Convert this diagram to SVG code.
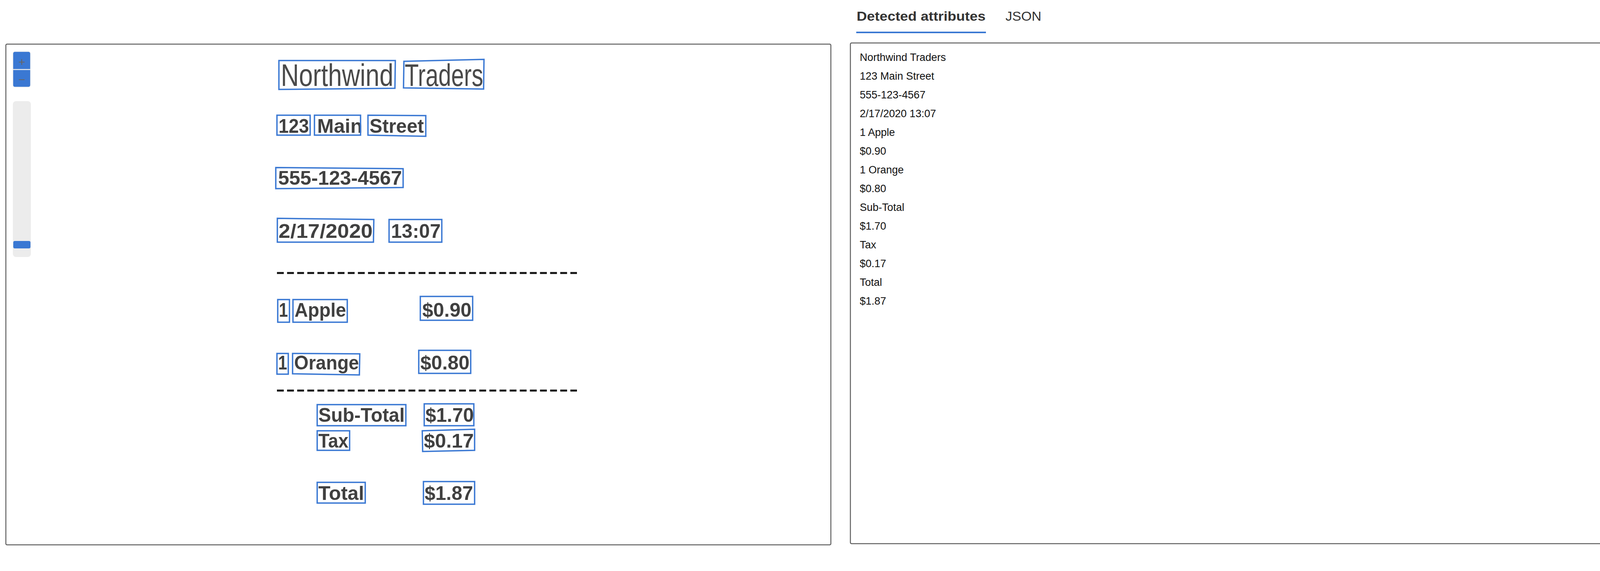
<svg xmlns="http://www.w3.org/2000/svg" width="4390" height="1462" viewBox="0 0 4390 1462">
<style>
.panel{fill:#ffffff;stroke:#5f5f5f;stroke-width:2.5}
.box{fill:none;stroke:#3a78d3;stroke-width:3.5}
.rc{font-family:"Liberation Sans Narrow","Liberation Sans",Arial,sans-serif;font-weight:bold;font-size:50px;fill:#404040}
.rt{font-family:"Liberation Sans Narrow","Liberation Sans",Arial,sans-serif;font-weight:normal;font-size:64px;fill:#4a4a4a}
.dash{stroke:#111;stroke-width:5;stroke-dasharray:17.5 8.4;fill:none}
.attr{font-family:"Liberation Sans",Arial,sans-serif;font-size:27px;fill:#111}
.tab{font-family:"Liberation Sans",Arial,sans-serif;font-size:33px;fill:#333}
.blue{fill:#3a78d3}
.glyph{font-family:"Liberation Sans",Arial,sans-serif;font-size:30px;fill:#666666;text-anchor:middle}
</style>
<rect x="0" y="0" width="4390" height="1462" fill="#ffffff"/>

<g id="left-panel">
  <rect class="panel" x="15" y="113" width="2112" height="1282" rx="3"/>
  <g id="zoom-controls">
    <rect class="blue" x="33" y="132" width="45" height="91" rx="5" stroke="#eeeeee" stroke-width="1.5"/>
    <line x1="33" y1="178" x2="78" y2="178" stroke="#eeeeee" stroke-width="2.5"/>
    <text class="glyph" x="56" y="169">+</text>
    <text class="glyph" x="56" y="214">−</text>
  </g>
  <g id="zoom-slider">
    <rect x="33" y="259" width="46" height="399" rx="8" fill="#ececec"/>
    <rect class="blue" x="34" y="617" width="44" height="19" rx="4"/>
  </g>
</g>

<g id="receipt">
  <g id="line-name">
    <text class="rt" transform="translate(719,220) scale(1,1.25)" x="0" y="0" textLength="288" lengthAdjust="spacingAndGlyphs">Northwind</text>
    <text class="rt" transform="translate(1036,220) scale(1,1.25)" x="0" y="0" textLength="201" lengthAdjust="spacingAndGlyphs">Traders</text>
    <polygon class="box" points="714,155 1012,155 1011,226 714,229"/>
    <polygon class="box" points="1034,157 1239,152 1238,228 1033,225"/>
  </g>
  <g id="line-address">
    <text class="rc" x="713" y="340" textLength="78" lengthAdjust="spacingAndGlyphs">123</text>
    <text class="rc" x="812" y="340" textLength="116" lengthAdjust="spacingAndGlyphs">Main</text>
    <text class="rc" x="946" y="340" textLength="139" lengthAdjust="spacingAndGlyphs">Street</text>
    <rect class="box" x="709" y="295" width="85" height="51"/>
    <rect class="box" x="805" y="295" width="118" height="51"/>
    <polygon class="box" points="942,295 1090,296 1090,349 942,346"/>
  </g>
  <g id="line-phone">
    <text class="rc" x="712" y="473" textLength="317" lengthAdjust="spacingAndGlyphs">555-123-4567</text>
    <polygon class="box" points="706,429 1032,432 1032,480 706,483"/>
  </g>
  <g id="line-date">
    <text class="rc" x="713" y="609" textLength="241" lengthAdjust="spacingAndGlyphs">2/17/2020</text>
    <text class="rc" x="1001" y="609" textLength="127" lengthAdjust="spacingAndGlyphs">13:07</text>
    <polygon class="box" points="710,559 957,562 956,620 710,620"/>
    <rect class="box" x="996" y="562" width="135" height="58"/>
  </g>
  <line class="dash" x1="709" y1="699" x2="1477" y2="699"/>
  <g id="line-apple">
    <text class="rc" x="714" y="811" textLength="23" lengthAdjust="spacingAndGlyphs">1</text>
    <text class="rc" x="754" y="811" textLength="132" lengthAdjust="spacingAndGlyphs">Apple</text>
    <text class="rc" x="1081" y="811" textLength="126" lengthAdjust="spacingAndGlyphs">$0.90</text>
    <rect class="box" x="711" y="767" width="30" height="58"/>
    <rect class="box" x="750" y="767" width="139" height="58"/>
    <rect class="box" x="1076" y="759" width="134" height="61"/>
  </g>
  <g id="line-orange">
    <text class="rc" x="712" y="946" textLength="23" lengthAdjust="spacingAndGlyphs">1</text>
    <text class="rc" x="753" y="946" textLength="166" lengthAdjust="spacingAndGlyphs">Orange</text>
    <text class="rc" x="1076" y="946" textLength="126" lengthAdjust="spacingAndGlyphs">$0.80</text>
    <rect class="box" x="709" y="905" width="29" height="53"/>
    <polygon class="box" points="749,905 921,906 920,960 749,957"/>
    <rect class="box" x="1072" y="897" width="133" height="59"/>
  </g>
  <line class="dash" x1="709" y1="1000" x2="1477" y2="1000"/>
  <g id="line-subtotal">
    <text class="rc" x="815" y="1080" textLength="221" lengthAdjust="spacingAndGlyphs">Sub-Total</text>
    <text class="rc" x="1089" y="1080" textLength="124" lengthAdjust="spacingAndGlyphs">$1.70</text>
    <rect class="box" x="812" y="1036" width="227" height="54"/>
    <rect class="box" x="1086" y="1034" width="127" height="56"/>
  </g>
  <g id="line-tax">
    <text class="rc" x="815" y="1146" textLength="77" lengthAdjust="spacingAndGlyphs">Tax</text>
    <text class="rc" x="1085" y="1146" textLength="128" lengthAdjust="spacingAndGlyphs">$0.17</text>
    <rect class="box" x="812" y="1103" width="83" height="50"/>
    <polygon class="box" points="1081,1103 1215,1099 1215,1153 1082,1156"/>
  </g>
  <g id="line-total">
    <text class="rc" x="815" y="1280" textLength="117" lengthAdjust="spacingAndGlyphs">Total</text>
    <text class="rc" x="1087" y="1280" textLength="124" lengthAdjust="spacingAndGlyphs">$1.87</text>
    <rect class="box" x="812" y="1235" width="123" height="53"/>
    <rect class="box" x="1084" y="1233" width="131" height="58"/>
  </g>
</g>

<g id="tabs">
  <text class="tab" x="2193" y="53" font-weight="bold" textLength="330" lengthAdjust="spacingAndGlyphs">Detected attributes</text>
  <text class="tab" x="2574" y="53" textLength="92" lengthAdjust="spacingAndGlyphs">JSON</text>
  <rect class="blue" x="2192" y="81" width="332" height="4"/>
</g>

<g id="scrollbar">
  <rect x="4308" y="0" width="30" height="85" fill="#f7f7f7" stroke="#ececec" stroke-width="1"/>
  <rect x="4316" y="3" width="16" height="74" rx="8" fill="#c1c1c1"/>
</g>

<g id="right-panel">
  <rect class="panel" x="2177" y="110" width="2160" height="1282" rx="3"/>
  <text class="attr" x="2201" y="156">Northwind Traders</text>
  <text class="attr" x="2201" y="204">123 Main Street</text>
  <text class="attr" x="2201" y="252">555-123-4567</text>
  <text class="attr" x="2201" y="300">2/17/2020 13:07</text>
  <text class="attr" x="2201" y="348">1 Apple</text>
  <text class="attr" x="2201" y="396">$0.90</text>
  <text class="attr" x="2201" y="444">1 Orange</text>
  <text class="attr" x="2201" y="492">$0.80</text>
  <text class="attr" x="2201" y="540">Sub-Total</text>
  <text class="attr" x="2201" y="588">$1.70</text>
  <text class="attr" x="2201" y="636">Tax</text>
  <text class="attr" x="2201" y="684">$0.17</text>
  <text class="attr" x="2201" y="732">Total</text>
  <text class="attr" x="2201" y="780">$1.87</text>
</g>

<g id="connectors"></g>
</svg>
